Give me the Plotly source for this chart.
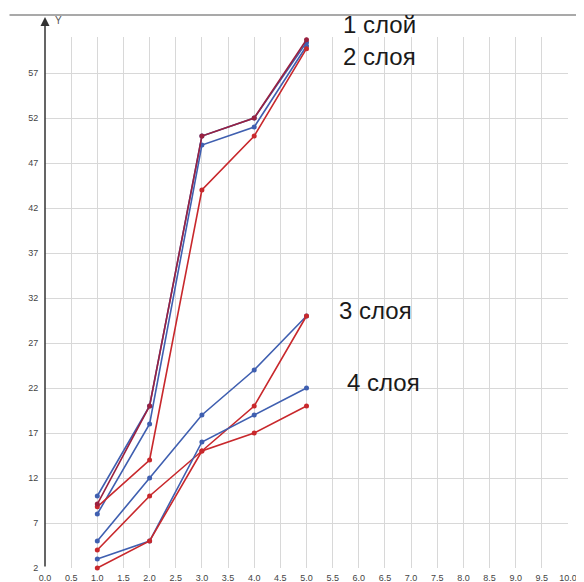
import plotly.graph_objects as go

x_vals = [1.0, 2.0, 3.0, 4.0, 5.0]
layer1_blue = [10, 20, 50, 52, 60.4]
layer1_red = [9.1, 20, 50, 52, 60.7]
layer2_blue = [8, 18, 49, 51, 60]
layer2_red = [8.8, 14, 44, 50, 59.7]
layer3_blue = [5, 12, 19, 24, 30]
layer3_red = [4, 10, 15, 20, 30]
layer4_blue = [3, 5, 16, 19, 22]
layer4_red = [2, 5, 15, 17, 20]

BLUE = "#3f5fb0"
RED = "#c8282c"
DARKRED = "#9a2140"

series = [
    ("layer1_blue", layer1_blue, BLUE),
    ("layer2_blue", layer2_blue, BLUE),
    ("layer2_red", layer2_red, RED),
    ("layer1_red", layer1_red, DARKRED),
    ("layer3_blue", layer3_blue, BLUE),
    ("layer3_red", layer3_red, RED),
    ("layer4_blue", layer4_blue, BLUE),
    ("layer4_red", layer4_red, RED),
]

fig = go.Figure()
for name, ys, col in series:
    fig.add_trace(go.Scatter(
        x=x_vals, y=ys, mode="lines+markers", name=name,
        line=dict(color=col, width=1.6),
        marker=dict(color=col, size=5),
        cliponaxis=False, showlegend=False,
    ))

# page body has an 8px margin; work in reference pixels and shift
OFF = 8
W, H = 576, 574
L, T = 45 - OFF, 37 - OFF
R = W - (568 - OFF)
B = H - (568 - OFF)
pw = W - L - R
ph = H - T - B

def px_x(p):
    return (p - OFF - L) / pw

def px_y(p):
    return (H - B - (p - OFF)) / ph

def label(text, x, y, size, color, xanchor="left"):
    return dict(xref="paper", yref="paper", x=px_x(x), y=px_y(y),
                xanchor=xanchor, yanchor="middle", text=text,
                showarrow=False, font=dict(size=size, color=color))

fig.update_layout(
    width=W, height=H,
    margin=dict(l=L, r=R, t=T, b=B, autoexpand=False),
    paper_bgcolor="white", plot_bgcolor="white",
    font=dict(family="Liberation Sans, Arial, sans-serif"),
    xaxis=dict(
        range=[0, 10], tick0=0, dtick=0.5, tickformat=".1f",
        showgrid=True, gridcolor="#d8d8d8", gridwidth=1,
        zeroline=False, showline=False, automargin=False,
        ticks="outside", ticklen=1, tickcolor="rgba(0,0,0,0)",
        tickfont=dict(size=9, color="#444"),
    ),
    yaxis=dict(
        range=[2, 61], tick0=2, dtick=5,
        showgrid=True, gridcolor="#d8d8d8", gridwidth=1,
        zeroline=False, showline=False, automargin=False,
        ticks="outside", ticklen=4, tickcolor="rgba(0,0,0,0)",
        tickfont=dict(size=9, color="#444"),
    ),
    annotations=[
        # top border line
        dict(xref="paper", yref="paper", x=px_x(584), y=px_y(15),
             ax=-(584 - 8), ay=0, text="", showarrow=True, arrowhead=0,
             arrowwidth=1.2, arrowcolor="#555"),
        # y axis with arrow
        dict(xref="paper", yref="paper", x=0, y=px_y(17), ax=0, ay=551,
             text="", showarrow=True, arrowhead=2, arrowsize=1.2,
             arrowwidth=1.5, arrowcolor="#333"),
        label("Y", 58, 21, 10, "#555", "center"),
        label("X", 580, 553, 10, "#555", "center"),
        label("1 слой", 341, 25, 24, "#1a1a1a"),
        label("2 слоя", 341, 57, 24, "#1a1a1a"),
        label("3 слоя", 337, 310, 24, "#1a1a1a"),
        label("4 слоя", 345, 382, 24, "#1a1a1a"),
    ],
)

fig.write_html("out.html")
